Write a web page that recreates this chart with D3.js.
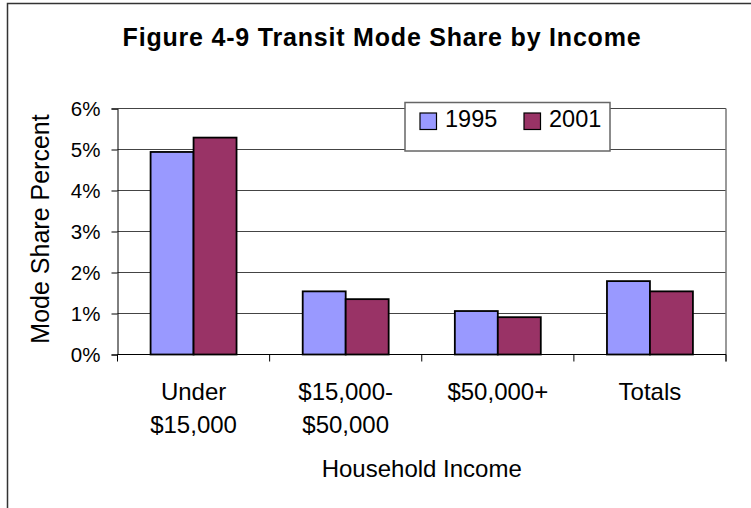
<!DOCTYPE html>
<html>
<head>
<meta charset="utf-8">
<script src="https://cdn.jsdelivr.net/npm/d3@7"></script>
<style>
  body { margin: 0; background: #fff; }
  text { font-family: Arial, "Liberation Sans", sans-serif; fill: #000; }
</style>
</head>
<body>
<svg id="chart" width="751" height="508"></svg>
<script>
const categories = [["Under", "$15,000"], ["$15,000-", "$50,000"], ["$50,000+"], ["Totals"]];
const series = ["1995", "2001"];
const values1995 = [4.94, 1.54, 1.06, 1.79];
const values2001 = [5.29, 1.35, 0.91, 1.54];
const yTicks = [0, 1, 2, 3, 4, 5, 6];
const colors = ["#9999ff", "#993366"];

const rows = categories.map((c, i) => ({ key: c.join(" "), lines: c, vals: [values1995[i], values2001[i]] }));

const svg = d3.select("#chart");

// outer chart frame (only left and top edges are inside the picture)
svg.append("rect")
  .attr("x", 7.5).attr("y", 3.5)
  .attr("width", 800).attr("height", 600)
  .attr("fill", "none").attr("stroke", "#333").attr("stroke-width", 1.5);

const plotL = 117.5, plotR = 726, plotT = 108.5, plotB = 354.5;

const x = d3.scaleBand()
  .domain(rows.map(d => d.key))
  .range([plotL, plotR])
  .paddingInner(0.435)
  .paddingOuter(0.2175);

const xs = d3.scaleBand().domain(series).range([0, x.bandwidth()]);

const y = d3.scaleLinear().domain([0, 6]).range([plotB, plotT]);

// gridlines
svg.append("g")
  .selectAll("line")
  .data(yTicks.slice(1))
  .join("line")
  .attr("x1", plotL).attr("x2", plotR)
  .attr("y1", d => y(d)).attr("y2", d => y(d))
  .attr("stroke", "#444").attr("stroke-width", 1);

// right edge of plot area
svg.append("line")
  .attr("x1", plotR).attr("x2", plotR)
  .attr("y1", plotT).attr("y2", plotB + 7)
  .attr("stroke", "#777").attr("stroke-width", 1.5);

// y axis
const yAxis = svg.append("g")
  .attr("transform", `translate(${plotL},0)`)
  .call(d3.axisLeft(y).tickValues(yTicks).tickSize(6).tickFormat(d => d + "%").tickPadding(11));
yAxis.select(".domain").attr("stroke", "#000");
yAxis.selectAll(".tick line").attr("stroke", "#000");
yAxis.selectAll(".tick text")
  .attr("font-family", "Arial, 'Liberation Sans', sans-serif")
  .attr("font-size", 20.5)
  .attr("fill", "#000")
  .attr("dy", "0.34em");

// bars
svg.append("g")
  .selectAll("g")
  .data(rows)
  .join("g")
  .attr("transform", d => `translate(${x(d.key)},0)`)
  .selectAll("rect")
  .data(d => d.vals.map((v, i) => ({ s: series[i], v, i })))
  .join("rect")
  .attr("x", d => xs(d.s))
  .attr("y", d => y(d.v))
  .attr("width", xs.bandwidth())
  .attr("height", d => y(0) - y(d.v))
  .attr("fill", d => colors[d.i])
  .attr("stroke", "#000")
  .attr("stroke-width", 1.8);

// x axis line and boundary ticks
svg.append("line")
  .attr("x1", plotL).attr("x2", plotR)
  .attr("y1", plotB).attr("y2", plotB)
  .attr("stroke", "#000");
svg.append("g")
  .selectAll("line")
  .data(d3.range(rows.length + 1))
  .join("line")
  .attr("x1", i => plotL + i * x.step()).attr("x2", i => plotL + i * x.step())
  .attr("y1", plotB).attr("y2", plotB + 7)
  .attr("stroke", "#000");

// category labels
svg.append("g")
  .selectAll("text")
  .data(rows)
  .join("text")
  .attr("text-anchor", "middle")
  .attr("font-size", 24)
  .attr("x", d => x(d.key) + x.bandwidth() / 2)
  .attr("y", 400)
  .selectAll("tspan")
  .data(d => d.lines.map(ln => ({ ln, cx: x(d.key) + x.bandwidth() / 2 })))
  .join("tspan")
  .attr("x", d => d.cx)
  .attr("dy", (d, j) => j === 0 ? 0 : 33)
  .text(d => d.ln);

// titles
svg.append("text")
  .attr("x", 382).attr("y", 46)
  .attr("text-anchor", "middle")
  .attr("font-size", 25)
  .attr("font-weight", "bold")
  .attr("letter-spacing", 0.8)
  .text("Figure 4-9  Transit Mode Share by Income");

svg.append("text")
  .attr("x", (plotL + plotR) / 2).attr("y", 477)
  .attr("text-anchor", "middle")
  .attr("font-size", 24)
  .text("Household Income");

svg.append("text")
  .attr("transform", `translate(49,229) rotate(-90)`)
  .attr("text-anchor", "middle")
  .attr("font-size", 25)
  .text("Mode Share Percent");

// legend
const lg = svg.append("g").attr("transform", "translate(405,102.5)");
lg.append("rect")
  .attr("width", 205).attr("height", 48.5)
  .attr("fill", "#fff").attr("stroke", "#666").attr("stroke-width", 1.5);
series.forEach((s, i) => {
  const ox = 15 + i * 104;
  lg.append("rect")
    .attr("x", ox).attr("y", 10.5)
    .attr("width", 16.5).attr("height", 16.5)
    .attr("fill", colors[i]).attr("stroke", "#000").attr("stroke-width", 1.2);
  lg.append("text")
    .attr("x", ox + 25).attr("y", 24.5)
    .attr("font-size", 23.5)
    .text(s);
});
</script>
</body>
</html>
